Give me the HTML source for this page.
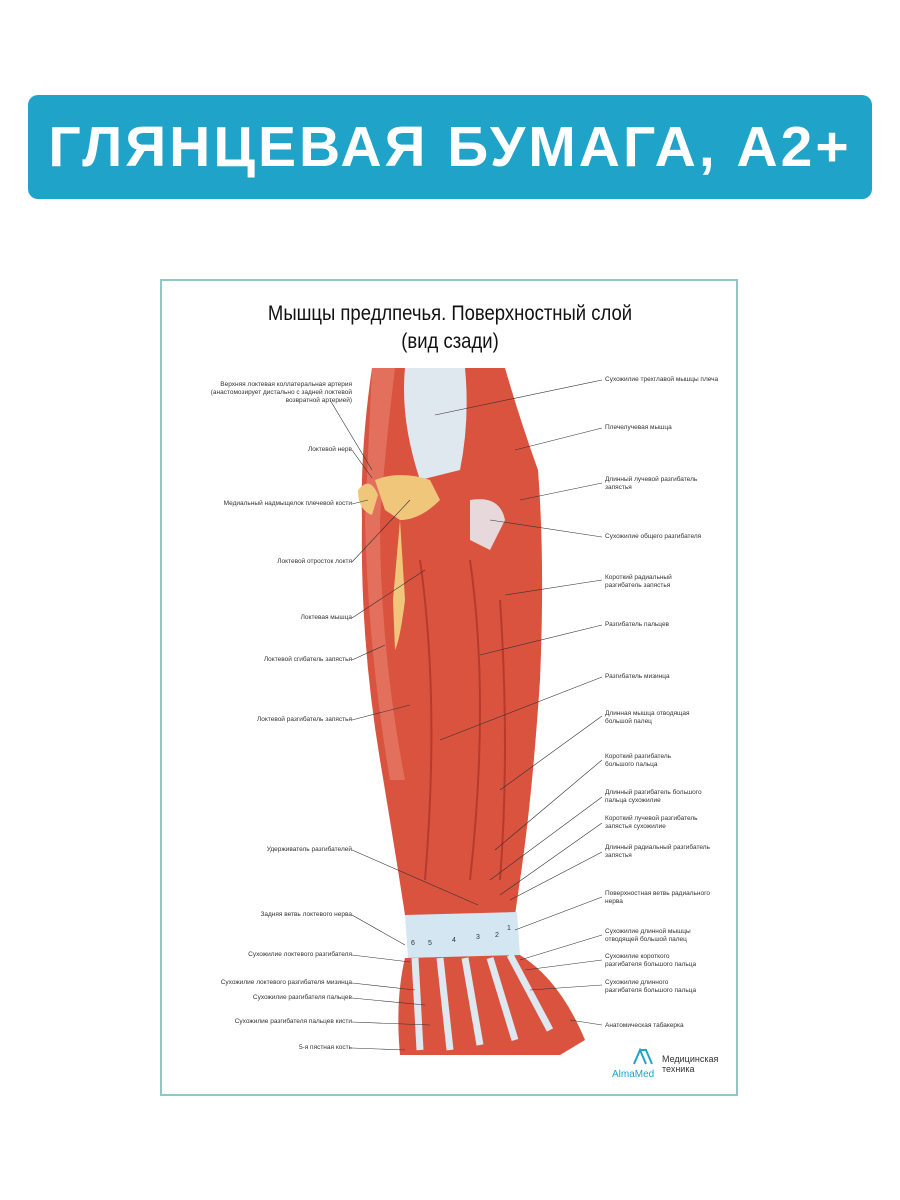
<!DOCTYPE html>
<html><head><meta charset="utf-8"><style>
body{margin:0;width:900px;height:1200px;background:#fff;position:relative;overflow:hidden;font-family:"Liberation Sans",sans-serif}
.banner{position:absolute;left:28px;top:95px;width:844px;height:104px;background:#1fa3c9;border-radius:10px;color:#fff;font-weight:bold;font-size:57px;text-align:center;line-height:104px;letter-spacing:3px}
.poster{position:absolute;left:160px;top:279px;width:578px;height:817px;border:2px solid #8fc9c6;box-sizing:border-box}
.t{position:absolute;left:160px;width:580px;text-align:center;font-size:21px;color:#111;transform:scaleX(.88)}
.l{position:absolute;font-size:6.5px;color:#333;line-height:8px}
.r{text-align:right}
</style></head><body>
<div class="banner">ГЛЯНЦЕВАЯ БУМАГА, А2+</div>
<div class="poster"></div>
<div class="t" style="top:302px">Мышцы предлпечья. Поверхностный слой</div>
<div class="t" style="top:330px">(вид сзади)</div>
<svg width="900" height="1200" style="position:absolute;left:0;top:0">
<path d="M372 368 L505 368 Q520 420 538 470 Q545 560 540 680 Q532 800 520 880 L515 915 L405 915 Q395 850 380 760 Q360 640 362 520 Q360 450 372 368Z" fill="#d9533f"/>
<path d="M372 368 L395 368 Q385 450 380 520 Q380 650 405 780 L390 780 Q368 650 365 520Z" fill="#e2705c"/>
<path d="M405 368 L465 368 Q470 420 460 470 L420 480 Q400 420 405 368Z" fill="#dfe7ef"/>
<path d="M375 480 Q400 470 430 480 L440 500 Q420 520 400 520 L385 510Z" fill="#f0c77a"/>
<path d="M358 490 Q370 475 378 495 L372 515 Q358 510 358 490Z" fill="#f0c77a"/>
<path d="M400 520 L405 600 Q400 640 395 650 L393 600 Z" fill="#f0c77a"/>
<path d="M470 500 Q500 495 505 520 L490 550 L470 540Z" fill="#e7d8dc"/>
<path d="M420 560 Q440 700 425 880 M470 560 Q490 700 470 880 M500 600 Q510 750 500 880" stroke="#b83a2c" stroke-width="2" fill="none"/>
<path d="M405 915 L517 912 L520 955 L408 958Z" fill="#d4e6f2"/>
<path d="M405 958 L520 955 Q560 980 585 1040 L560 1055 L400 1055 Q395 1000 405 958Z" fill="#d9533f"/>
<path d="M415 958 L420 1050 M440 958 L450 1050 M465 958 L480 1045 M490 958 L515 1040 M510 955 L550 1030" stroke="#dde8f0" stroke-width="7" fill="none"/>
<g stroke="#333" stroke-width="0.6" fill="none">
<path d="M330 400 L372 470 M352 450 L372 478 M352 504 L368 500 M352 562 L410 500 M352 618 L425 570 M352 660 L385 645 M352 720 L410 705 M352 850 L478 905 M352 915 L405 945 M352 955 L410 962 M352 983 L415 990 M352 998 L425 1005 M352 1022 L430 1025 M352 1048 L405 1050"/>
<path d="M602 380 L435 415 M602 428 L515 450 M602 483 L520 500 M602 537 L490 520 M602 580 L505 595 M602 625 L480 655 M602 677 L440 740 M602 716 L500 790 M602 760 L495 850 M602 797 L490 880 M602 823 L500 895 M602 852 L510 900 M602 897 L515 930 M602 935 L520 960 M602 960 L525 970 M602 985 L530 990 M602 1025 L570 1020"/>
</g>
<g font-size="7" fill="#333" font-family="Liberation Sans">
<text x="411" y="945">6</text><text x="428" y="945">5</text><text x="452" y="942">4</text><text x="476" y="939">3</text><text x="495" y="937">2</text><text x="507" y="930">1</text>
</g>
<path d="M634 1064 L640 1050 L646 1064 M640 1050 L646 1050 L652 1064" stroke="#1fa3c9" stroke-width="2" fill="none"/>
<text x="662" y="1062" font-size="9" fill="#333" font-family="Liberation Sans">Медицинская</text>
<text x="662" y="1072" font-size="9" fill="#333" font-family="Liberation Sans">техника</text>
<text x="612" y="1077" font-size="10" fill="#1fa3c9" font-family="Liberation Sans">AlmaMed</text>
</svg>
<div class="l r" style="left:190px;width:162px;top:381px">Верхняя локтевая коллатеральная артерия (анастомозирует дистально с задней локтевой возвратной артерией)</div>
<div class="l r" style="left:190px;width:162px;top:446px">Локтевой нерв</div>
<div class="l r" style="left:190px;width:162px;top:500px">Медиальный надмыщелок плечевой кости</div>
<div class="l r" style="left:190px;width:162px;top:558px">Локтевой отросток локтя</div>
<div class="l r" style="left:190px;width:162px;top:614px">Локтевая мышца</div>
<div class="l r" style="left:190px;width:162px;top:656px">Локтевой сгибатель запястья</div>
<div class="l r" style="left:190px;width:162px;top:716px">Локтевой разгибатель запястья</div>
<div class="l r" style="left:190px;width:162px;top:846px">Удерживатель разгибателей</div>
<div class="l r" style="left:190px;width:162px;top:911px">Задняя ветвь локтевого нерва</div>
<div class="l r" style="left:190px;width:162px;top:951px">Сухожилие локтевого разгибателя</div>
<div class="l r" style="left:190px;width:162px;top:979px">Сухожилие локтевого разгибателя мизинца</div>
<div class="l r" style="left:190px;width:162px;top:994px">Сухожилие разгибателя пальцев</div>
<div class="l r" style="left:190px;width:162px;top:1018px">Сухожилие разгибателя пальцев кисти</div>
<div class="l r" style="left:190px;width:162px;top:1044px">5-я пястная кость</div>
<div class="l" style="left:605px;top:376px">Сухожилие трехглавой мышцы плеча</div>
<div class="l" style="left:605px;top:424px">Плечелучевая мышца</div>
<div class="l" style="left:605px;top:476px">Длинный лучевой разгибатель<br>запястья</div>
<div class="l" style="left:605px;top:533px">Сухожилие общего разгибателя</div>
<div class="l" style="left:605px;top:574px">Короткий радиальный<br>разгибатель запястья</div>
<div class="l" style="left:605px;top:621px">Разгибатель пальцев</div>
<div class="l" style="left:605px;top:673px">Разгибатель мизинца</div>
<div class="l" style="left:605px;top:710px">Длинная мышца отводящая<br>большой палец</div>
<div class="l" style="left:605px;top:753px">Короткий разгибатель<br>большого пальца</div>
<div class="l" style="left:605px;top:789px">Длинный разгибатель большого<br>пальца сухожилие</div>
<div class="l" style="left:605px;top:815px">Короткий лучевой разгибатель<br>запястья сухожилие</div>
<div class="l" style="left:605px;top:844px">Длинный радиальный разгибатель<br>запястья</div>
<div class="l" style="left:605px;top:890px">Поверхностная ветвь радиального<br>нерва</div>
<div class="l" style="left:605px;top:928px">Сухожилие длинной мышцы<br>отводящей большой палец</div>
<div class="l" style="left:605px;top:953px">Сухожилие короткого<br>разгибателя большого пальца</div>
<div class="l" style="left:605px;top:979px">Сухожилие длинного<br>разгибателя большого пальца</div>
<div class="l" style="left:605px;top:1022px">Анатомическая табакерка</div>
</body></html>
